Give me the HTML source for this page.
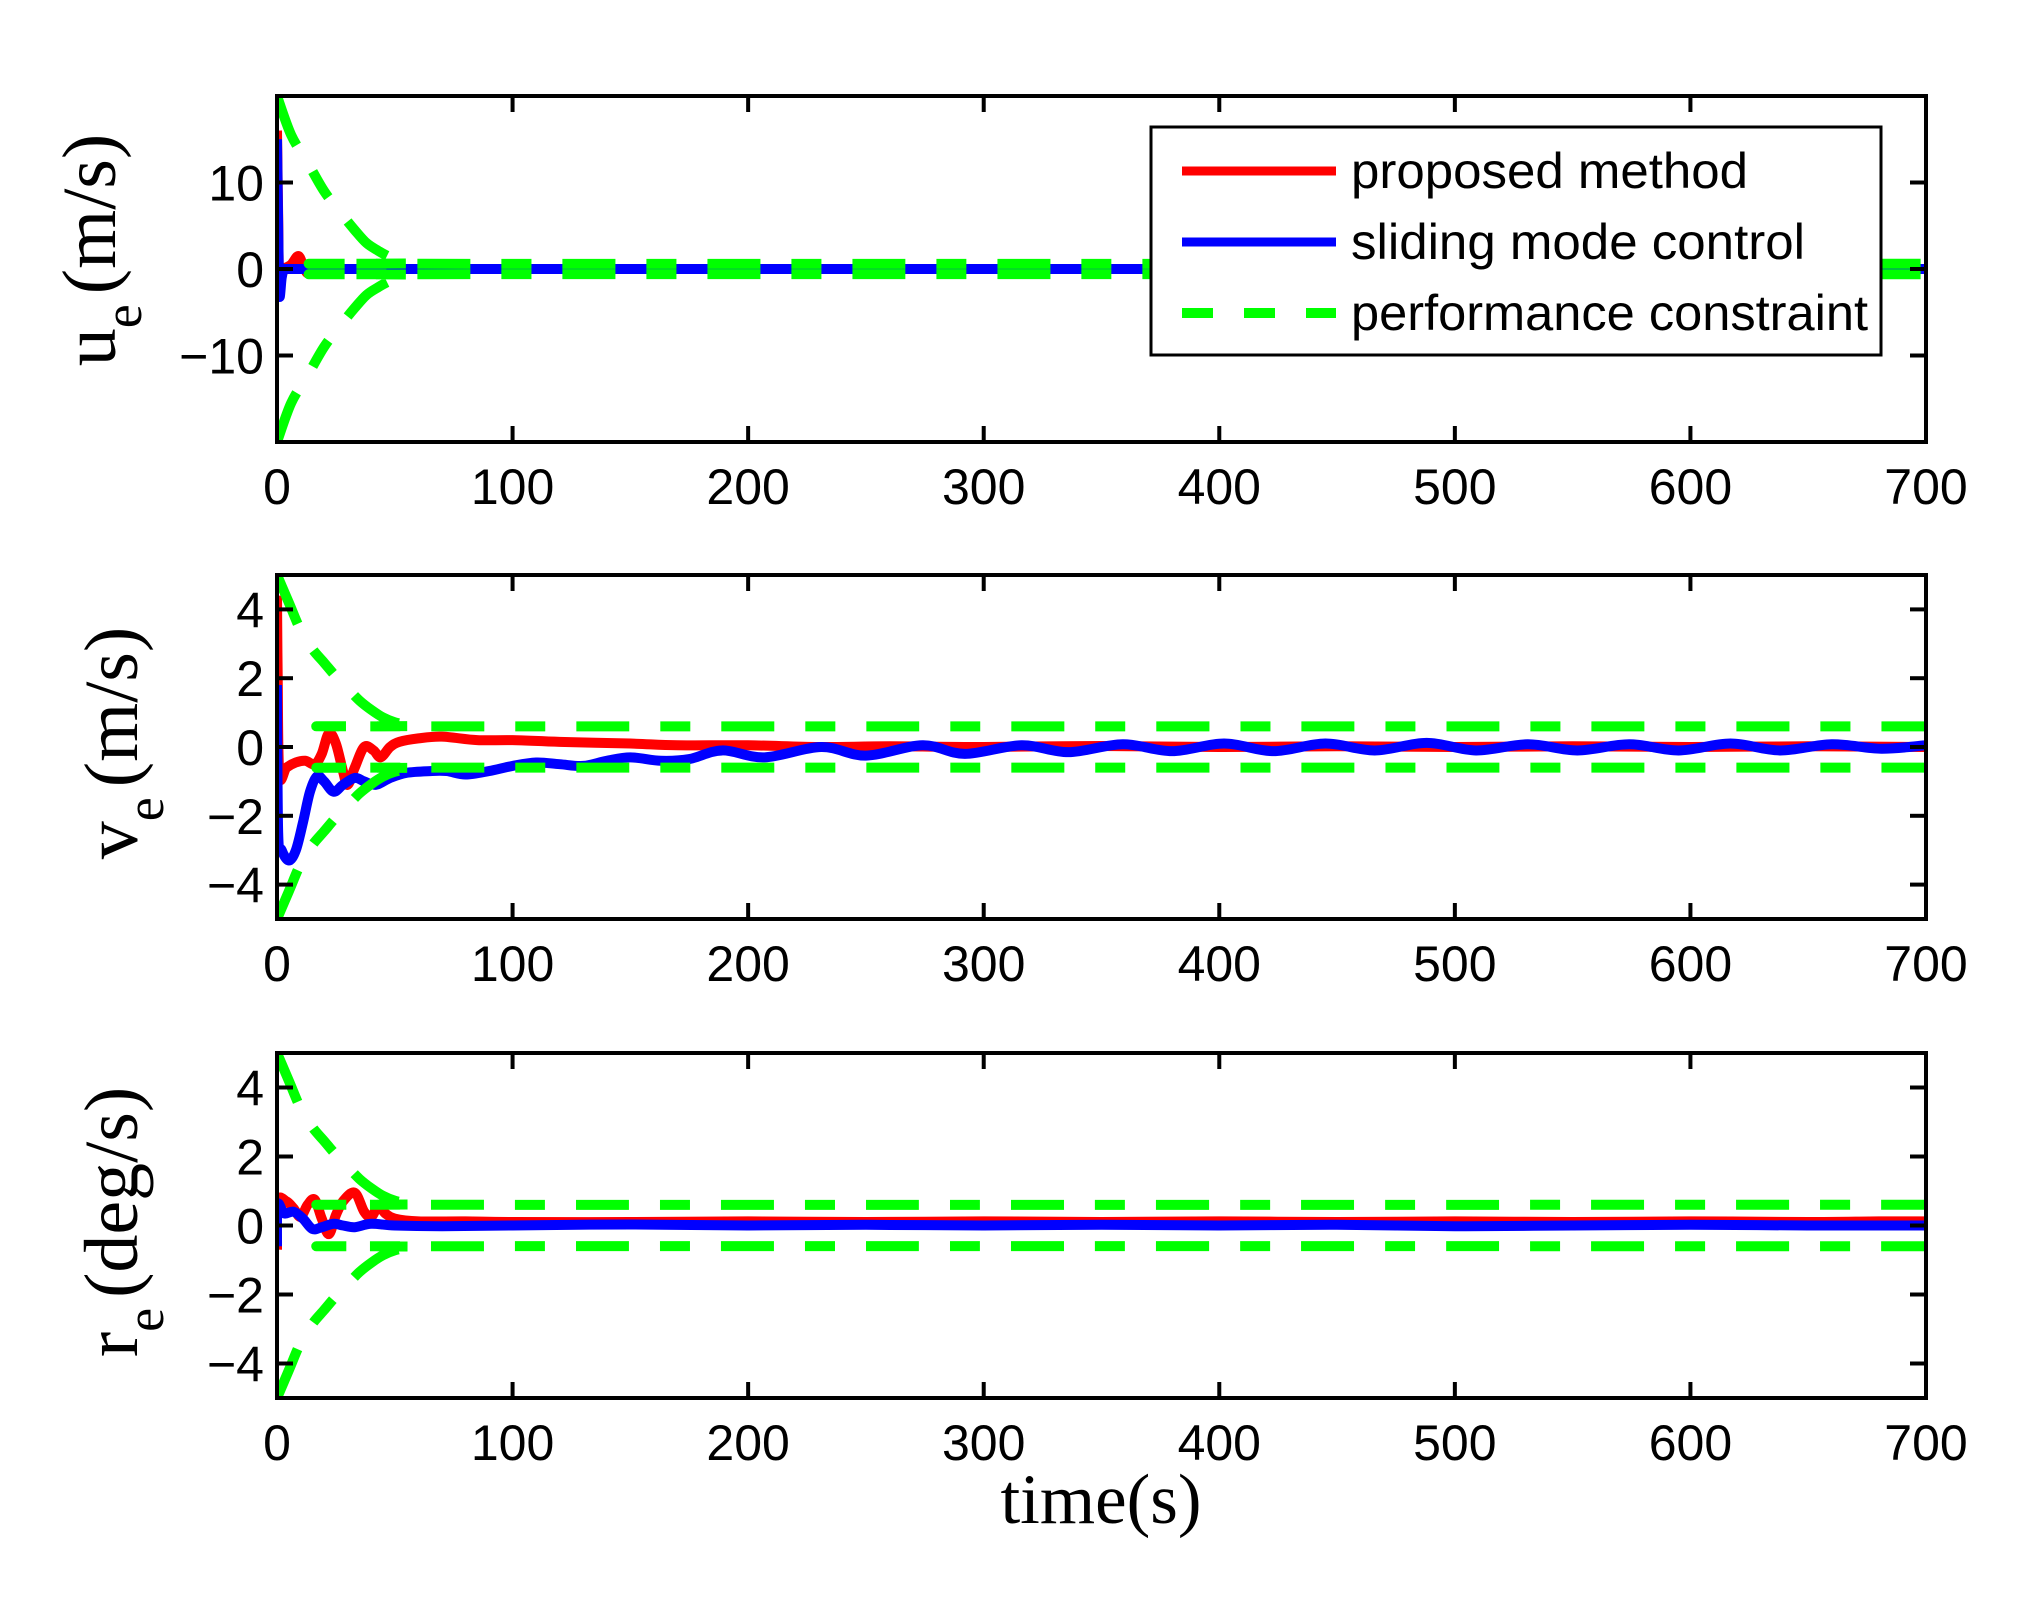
<!DOCTYPE html>
<html><head><meta charset="utf-8"><title>Tracking errors</title>
<style>
html,body{margin:0;padding:0;background:#fff;}
svg{display:block;}
.tick{font-family:"Liberation Sans",Arial,sans-serif;font-size:50px;fill:#000;}
.ylab{font-family:"Liberation Serif","Times New Roman",serif;font-size:76px;fill:#000;}
</style></head>
<body>
<svg id="chart" xmlns="http://www.w3.org/2000/svg" width="2041" height="1598" viewBox="0 0 2041 1598">
<rect x="0" y="0" width="2041" height="1598" fill="#fff"/>
<g id="plots"></g>
<text x="1101" y="1523" text-anchor="middle" font-family="Liberation Serif, Times New Roman, serif" font-size="71">time(s)</text>
</svg>
<script>
// ---- data ----
const xTicks = [0,100,200,300,400,500,600,700];
const uTicks = [-10,0,10];
const vTicks = [-4,-2,0,2,4];
const rTicks = [-4,-2,0,2,4];

const uBoundT = [0,6,13,20,27,33,38,43,47,52,57,62,700];
const uBoundV = [20,15.5,12.3,9,6.5,4.5,3,2.1,1.5,0.9,0.65,0.6,0.6];
const vBoundT = [0,5,10,15,20,25,30,35,40,45,50,55,60,65,700];
const vBoundV = [5,4.2,3.4,2.85,2.45,2.05,1.7,1.35,1.08,0.86,0.72,0.65,0.61,0.6,0.6];

const uRedT = [0,0.5,1,3,6,9,11,13,16,25,700];
const uRedV = [16,6,-1,0,0.5,1.5,0.5,-0.5,0,0,0];
const uBlueT = [0,0.5,1,2,3,5,700];
const uBlueV = [15,5,-3,-1,0,0,0];

const vRedT = [0,0.3,1,4,8,12,16,19,22,25,28,30,33,37,41,44,48,52,60,70,85,100,120,150,170,200,230,260,300,350,400,450,500,550,600,650,700];
const vRedV = [4.4,2,-0.8,-0.6,-0.45,-0.4,-0.5,-0.2,0.4,0.1,-0.7,-1.1,-0.6,0,-0.1,-0.3,0,0.15,0.25,0.3,0.2,0.2,0.15,0.1,0.05,0.05,0,0.02,0,0.03,0,0.02,0,0.02,0,0.02,0];
const vBlueT = [0,0.5,2,5,8,11,14,17,20,24,28,33,37,42,48,55,65,72,80,90,100,110,120,130,140,150,163,175,189,207,231,250,274,292,316,336,359,380,402,423,445,466,488,509,531,552,574,595,617,638,660,681,700];
const vBlueV = [1.8,-2.5,-3.0,-3.3,-3.0,-2.2,-1.3,-0.85,-1.0,-1.3,-1.1,-0.9,-1.0,-1.1,-0.9,-0.75,-0.7,-0.7,-0.8,-0.7,-0.55,-0.45,-0.5,-0.55,-0.4,-0.3,-0.4,-0.35,-0.1,-0.3,0,-0.25,0.05,-0.2,0.05,-0.15,0.08,-0.12,0.1,-0.12,0.1,-0.1,0.12,-0.1,0.08,-0.1,0.08,-0.1,0.1,-0.1,0.08,-0.05,0.05];

const rRedT = [0,0.3,4,7,10,13,16,19,22,25,28,33,37,40,43,46,50,60,80,100,150,200,250,300,350,400,450,500,550,600,650,680,700];
const rRedV = [-0.7,0.7,0.7,0.5,0.25,0.6,0.75,0.2,-0.25,0.3,0.7,0.95,0.4,0.25,0.55,0.35,0.2,0.12,0.12,0.1,0.1,0.12,0.1,0.12,0.1,0.12,0.1,0.12,0.1,0.12,0.1,0.12,0.12];
const rBlueT = [0,0.3,3,7,11,15,19,24,28,33,40,50,70,100,150,200,250,300,350,400,450,500,550,600,650,700];
const rBlueV = [-0.6,0.6,0.35,0.4,0.2,-0.1,-0.05,0.05,0,-0.05,0.05,0,-0.02,0,0.03,0,0.02,0,0.02,0,0.02,-0.02,0,0.02,0,0];

// ---- layout ----
const X0 = 277, X1 = 1926;
const xMin = 0, xMax = 700;
const panels = [
  {name:'u', top:96, bot:442, ymin:-20, ymax:20, ticks:uTicks, bT:uBoundT, bV:uBoundV,
   red:[uRedT,uRedV], blue:[uBlueT,uBlueV], lab:['u','(m/s)'], labX:115, labY:250},
  {name:'v', top:575, bot:919, ymin:-5, ymax:5, ticks:vTicks, bT:vBoundT, bV:vBoundV,
   red:[vRedT,vRedV], blue:[vBlueT,vBlueV], lab:['v','(m/s)'], labX:137, labY:743},
  {name:'r', top:1053, bot:1398, ymin:-5, ymax:5, ticks:rTicks, bT:vBoundT, bV:vBoundV,
   red:[rRedT,rRedV], blue:[rBlueT,rBlueV], lab:['r','(deg/s)'], labX:137, labY:1222}
];
const NS = 'http://www.w3.org/2000/svg';
const root = document.getElementById('plots');
function mk(tag, attrs, parent){
  const e = document.createElementNS(NS, tag);
  for (const k in attrs) e.setAttribute(k, attrs[k]);
  (parent||root).appendChild(e);
  return e;
}
function xs(t){ return X0 + (t - xMin) / (xMax - xMin) * (X1 - X0); }
function pathFrom(T, V, ys){
  const p = T.map((t,i)=>[xs(t), ys(V[i])]);
  let d = 'M' + p[0][0].toFixed(2) + ',' + p[0][1].toFixed(2);
  for (let i=0;i<p.length-1;i++){
    const p0 = p[Math.max(0,i-1)], p1 = p[i], p2 = p[i+1], p3 = p[Math.min(p.length-1,i+2)];
    const c1x = p1[0] + (p2[0]-p0[0])/6, c1y = p1[1] + (p2[1]-p0[1])/6;
    const c2x = p2[0] - (p3[0]-p1[0])/6, c2y = p2[1] - (p3[1]-p1[1])/6;
    d += 'C' + c1x.toFixed(2)+','+c1y.toFixed(2)+' '+c2x.toFixed(2)+','+c2y.toFixed(2)+' '+p2[0].toFixed(2)+','+p2[1].toFixed(2);
  }
  return d;
}

panels.forEach((P, idx) => {
  const ys = v => P.bot - (v - P.ymin) / (P.ymax - P.ymin) * (P.bot - P.top);
  const g = mk('g', {});
  
  
  const clip = mk('clipPath', {id:'clip'+idx}, g);
  mk('rect', {x:X0, y:P.top, width:X1-X0, height:P.bot-P.top}, clip);
  const series = mk('g', {'clip-path':'url(#clip'+idx+')'}, g);
  
  
  const red = mk('path', {d:pathFrom(P.red[0], P.red[1], ys), fill:'none', stroke:'#ff0000', 'stroke-width':10, 'stroke-linejoin':'round'}, series);
  
  
  const blue = mk('path', {d:pathFrom(P.blue[0], P.blue[1], ys), fill:'none', stroke:'#0000ff', 'stroke-width':10, 'stroke-linejoin':'round'}, series);
  
  
  const neg = P.bV.map(v => -v);
  const gu = mk('path', {d:pathFrom(P.bT, P.bV, ys), fill:'none', stroke:'#00ff00', 'stroke-width':10, 'stroke-dasharray':'53 31 30 31'}, series);
  
  
  const gl = mk('path', {d:pathFrom(P.bT, neg, ys), fill:'none', stroke:'#00ff00', 'stroke-width':10, 'stroke-dasharray':'53 31 30 31'}, series);
  
  

  xTicks.forEach(t => {
    const x = xs(t);
    mk('line', {x1:x, x2:x, y1:P.bot, y2:P.bot-16, stroke:'#000', 'stroke-width':4}, g);
    mk('line', {x1:x, x2:x, y1:P.top, y2:P.top+16, stroke:'#000', 'stroke-width':4}, g);
    const tl = mk('text', {x:x, y:P.bot+62, 'text-anchor':'middle', class:'tick'}, g);
    tl.textContent = String(t);
    
    
  });
  P.ticks.forEach(v => {
    const y = ys(v);
    mk('line', {x1:X0, x2:X0+16, y1:y, y2:y, stroke:'#000', 'stroke-width':4}, g);
    mk('line', {x1:X1, x2:X1-16, y1:y, y2:y, stroke:'#000', 'stroke-width':4}, g);
    const tl = mk('text', {x:264, y:y+18, 'text-anchor':'end', class:'tick'}, g);
    tl.textContent = v < 0 ? '\u2212' + Math.abs(v) : String(v);
    
    
  });
  const frame = mk('rect', {x:X0, y:P.top, width:X1-X0, height:P.bot-P.top, fill:'none', stroke:'#000', 'stroke-width':4}, g);
  
  

  const yl = mk('text', {transform:'translate('+P.labX+','+P.labY+') rotate(-90)', 'text-anchor':'middle', class:'ylab'}, g);
  
  
  const t1 = mk('tspan', {}, yl); t1.textContent = P.lab[0];
  const t2 = mk('tspan', {dy:26, 'font-size':54}, yl); t2.textContent = 'e';
  const t3 = mk('tspan', {dy:-26, dx:10}, yl); t3.textContent = P.lab[1];
});

const lg = mk('g', {});


mk('rect', {x:1151, y:127, width:730, height:228, fill:'#fff', stroke:'#000', 'stroke-width':3}, lg);
const legendLabels = ['proposed method','sliding mode control','performance constraint'];
const legendWidths = [397, 454, 517];
const legendColors = ['#ff0000','#0000ff','#00ff00'];
const legendY = [171, 242, 313];
legendLabels.forEach((lab, i) => {
  const e = mk('g', {}, lg);
  
  
  const ln = mk('line', {x1:1182, x2:1336, y1:legendY[i], y2:legendY[i], stroke:legendColors[i], 'stroke-width':i===2?10:9}, e);
  if (i === 2) ln.setAttribute('stroke-dasharray', '31 31');
  const tx = mk('text', {x:1351, y:legendY[i]+17, class:'tick', textLength:legendWidths[i], lengthAdjust:'spacingAndGlyphs'}, e);
  tx.textContent = lab;
});
</script>
</body></html>
